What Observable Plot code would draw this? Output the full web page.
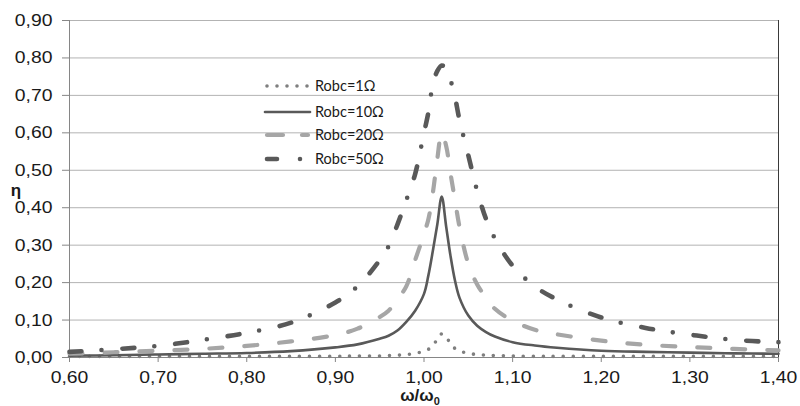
<!DOCTYPE html>
<html>
<head>
<meta charset="utf-8">
<script src="https://cdn.jsdelivr.net/npm/d3@7"></script>
<script src="https://cdn.jsdelivr.net/npm/@observablehq/plot@0.6"></script>
<style>
  html, body { margin: 0; padding: 0; background: #fff; }
  #chart svg { display: block; }
</style>
</head>
<body>
<div id="chart"></div>
<script>
// ω/ω0 sample positions
const omega = [0.60, 0.65, 0.70, 0.75, 0.80, 0.85, 0.90, 0.925, 0.95, 0.96, 0.97, 0.98, 0.99, 1.00, 1.005, 1.01, 1.015, 1.02, 1.025, 1.03, 1.035, 1.04, 1.05, 1.06, 1.07, 1.08, 1.10, 1.125, 1.15, 1.20, 1.25, 1.30, 1.35, 1.40];
// η values per series
const eta1  = [0.003, 0.003, 0.003, 0.003, 0.003, 0.003, 0.003, 0.004, 0.004, 0.005, 0.006, 0.008, 0.011, 0.017, 0.022, 0.030, 0.050, 0.063, 0.055, 0.036, 0.024, 0.018, 0.011, 0.008, 0.006, 0.005, 0.004, 0.003, 0.003, 0.003, 0.003, 0.003, 0.003, 0.003];
const eta10 = [0.005, 0.006, 0.008, 0.010, 0.012, 0.017, 0.027, 0.035, 0.050, 0.058, 0.072, 0.095, 0.125, 0.170, 0.220, 0.285, 0.355, 0.430, 0.350, 0.270, 0.205, 0.160, 0.112, 0.085, 0.068, 0.056, 0.041, 0.032, 0.026, 0.018, 0.015, 0.013, 0.011, 0.010];
const eta20 = [0.010, 0.014, 0.018, 0.023, 0.031, 0.043, 0.060, 0.077, 0.108, 0.125, 0.155, 0.190, 0.260, 0.330, 0.370, 0.440, 0.530, 0.600, 0.565, 0.490, 0.420, 0.350, 0.250, 0.195, 0.160, 0.130, 0.098, 0.074, 0.062, 0.045, 0.034, 0.028, 0.023, 0.019];
const eta50 = [0.015, 0.022, 0.031, 0.047, 0.066, 0.093, 0.147, 0.190, 0.260, 0.297, 0.355, 0.420, 0.490, 0.600, 0.655, 0.730, 0.765, 0.780, 0.770, 0.740, 0.695, 0.635, 0.540, 0.445, 0.370, 0.318, 0.245, 0.190, 0.155, 0.107, 0.079, 0.061, 0.047, 0.041];
const seriesNames = ["Robc=1Ω", "Robc=10Ω", "Robc=20Ω", "Robc=50Ω"];
const xTicks = [0.6, 0.7, 0.8, 0.9, 1.0, 1.1, 1.2, 1.3, 1.4];
const yTicks = [0, 0.1, 0.2, 0.3, 0.4, 0.5, 0.6, 0.7, 0.8, 0.9];

const styles = [
  {stroke: "#7f7f7f", width: 3.6, dash: "0 10"},
  {stroke: "#595959", width: 2.6, dash: null},
  {stroke: "#a6a6a6", width: 4.2, dash: "13 22"},
  {stroke: "#595959", width: 4.6, dash: "12 20 0 21"}
];
const allSeries = [eta1, eta10, eta20, eta50];
const rows = allSeries.map((vals, k) => omega.map((x, i) => ({x, y: vals[i], s: seriesNames[k]})));

const fmt = d => d.toFixed(2).replace(".", ",");
const FONT = "'Liberation Sans', Arial, sans-serif";

const lineMarks = rows.map((r, k) => Plot.line(r, {
  x: "x", y: "y",
  stroke: styles[k].stroke,
  strokeWidth: styles[k].width,
  strokeDasharray: styles[k].dash,
  strokeLinecap: "round",
  strokeLinejoin: "round",
  curve: "catmull-rom"
}));

const chart = Plot.plot({
  width: 800,
  height: 406,
  marginLeft: 69,
  marginRight: 22,
  marginTop: 20,
  marginBottom: 49,
  style: {fontFamily: FONT, background: "#fff"},
  x: {domain: [0.6, 1.4], label: null},
  y: {domain: [0, 0.9], label: null},
  marks: [
    Plot.gridY(yTicks, {stroke: "#b3b3b3", strokeOpacity: 1, strokeWidth: 1}),
    Plot.ruleX([0.6], {stroke: "#868686"}),
    Plot.ruleY([0], {stroke: "#868686"}),
    Plot.ruleX([1.4], {stroke: "#3a3a3a"}),
    Plot.axisY(yTicks, {tickSize: 7, tickPadding: 10, tickFormat: fmt, fontSize: 17, stroke: "#868686", fill: "#1a1a1a", label: null}),
    Plot.axisX(xTicks, {tickSize: 5, tickPadding: 8, tickFormat: fmt, fontSize: 17, stroke: "#868686", fill: "#1a1a1a", label: null}),
    ...lineMarks
  ]
});

document.getElementById("chart").appendChild(chart);

const svg = d3.select(chart);
// widen tick labels slightly to match the reference's stretched glyphs
svg.selectAll('g[aria-label="y-axis tick label"] text, g[aria-label="x-axis tick label"] text')
  .attr("transform", function() {
    const t = this.getAttribute("transform") || "";
    return t + " scale(1.14,1)";
  });

// axis titles
svg.append("text")
  .attr("x", 16).attr("y", 196)
  .attr("text-anchor", "middle")
  .attr("font-family", FONT).attr("font-weight", "bold").attr("font-size", 17)
  .attr("fill", "#1a1a1a")
  .text("η");
const xt = svg.append("text")
  .attr("x", 420).attr("y", 401)
  .attr("text-anchor", "middle")
  .attr("font-family", FONT).attr("font-weight", "bold").attr("font-size", 17)
  .attr("fill", "#1a1a1a");
xt.append("tspan").text("ω/ω");
xt.append("tspan").attr("font-size", 11).attr("dy", 4).text("0");

// legend
const legY = [86, 112, 135, 159];
const leg = svg.append("g");
seriesNames.forEach((name, k) => {
  const st = styles[k];
  let x1 = 267, x2 = 308;
  if (k === 1) { x1 = 265; x2 = 310; }
  if (k === 3) { x1 = 267; x2 = 302; }
  leg.append("line")
    .attr("x1", x1).attr("x2", x2)
    .attr("y1", legY[k]).attr("y2", legY[k])
    .attr("stroke", st.stroke)
    .attr("stroke-width", st.width)
    .attr("stroke-linecap", "round")
    .attr("stroke-dasharray", k === 2 ? "16 19" : k === 3 ? "10 23 0 30" : st.dash);
  leg.append("text")
    .attr("x", 315).attr("y", legY[k]).attr("dy", "0.35em")
    .attr("text-anchor", "start")
    .attr("font-family", "Lato, 'Open Sans', sans-serif").attr("font-size", 14.5)
    .attr("fill", "#1a1a1a")
    .text(name);
});
</script>
</body>
</html>
